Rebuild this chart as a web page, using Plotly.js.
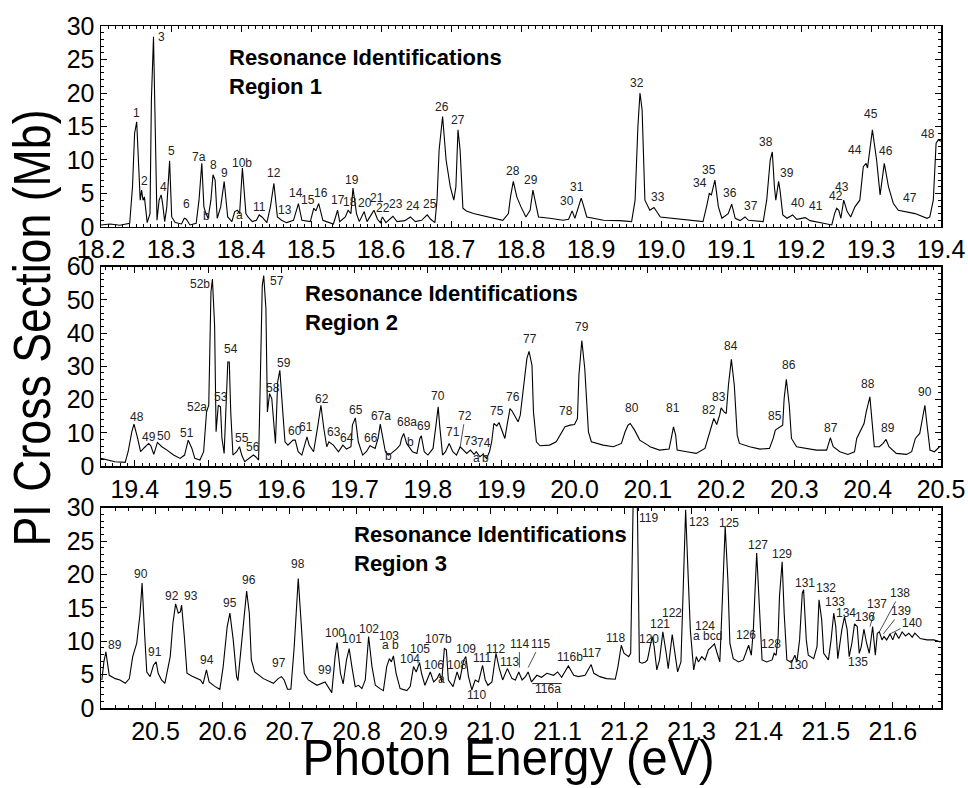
<!DOCTYPE html>
<html><head><meta charset="utf-8">
<script src="https://cdn.plot.ly/plotly-3.0.1.min.js"></script>
<style>html,body{margin:0;padding:0;background:#fff}#chart{width:968px;height:788px}</style>
</head><body><div id="chart"></div>
<script>
// ---- Region 1 spectrum (photon energy eV, cross section Mb)
const e1 = [18.200,18.213,18.227,18.241,18.245,18.248,18.251,18.253,18.256,18.258,18.260,18.262,18.266,18.270,18.272,18.275,18.277,18.280,18.283,18.286,18.288,18.291,18.294,18.298,18.301,18.306,18.315,18.319,18.322,18.327,18.336,18.340,18.344,18.347,18.350,18.353,18.357,18.360,18.363,18.366,18.371,18.376,18.381,18.387,18.391,18.395,18.398,18.402,18.407,18.410,18.416,18.422,18.426,18.430,18.437,18.442,18.447,18.452,18.458,18.465,18.475,18.482,18.487,18.499,18.504,18.507,18.511,18.517,
18.522,18.532,18.538,18.541,18.549,18.553,18.557,18.560,18.565,18.569,18.576,18.580,18.587,18.590,18.595,18.599,18.602,18.607,18.617,18.623,18.634,18.642,18.649,18.658,18.666,18.671,18.677,18.680,18.683,18.688,18.693,18.699,18.704,18.707,18.710,18.713,18.717,18.722,18.732,18.741,18.751,18.760,18.774,18.782,18.785,18.789,18.794,18.800,18.807,18.813,18.817,18.820,18.825,18.841,18.860,18.868,18.873,18.877,18.882,18.886,18.889,18.894,18.918,18.941,18.958,18.963,18.967,18.970,
18.973,18.977,18.984,18.990,18.999,19.018,19.041,19.060,19.065,19.069,19.072,19.077,19.082,19.087,19.096,19.101,19.106,19.113,19.120,19.125,19.146,19.151,19.156,19.159,19.162,19.164,19.168,19.170,19.174,19.180,19.188,19.194,19.206,19.213,19.232,19.244,19.248,19.251,19.254,19.257,19.261,19.266,19.271,19.277,19.284,19.289,19.293,19.295,19.302,19.308,19.313,19.319,19.325,19.332,19.339,19.351,19.363,19.380,19.384,19.389,19.393,19.396,19.400];
const s1 = [0.3,0.45,0.25,0.55,6.0,14.0,15.7,10.0,4.0,5.5,4.0,4.5,0.65,2.0,19.0,28.4,19.0,1.0,4.0,4.8,3.5,0.8,3.0,9.9,1.5,0.65,0.45,1.3,1.15,0.3,0.55,4.0,9.5,3.0,2.0,1.3,4.0,7.8,7.0,1.3,3.0,6.8,1.5,0.8,2.3,2.5,2.0,8.8,2.0,1.5,0.8,1.0,1.8,1.5,0.65,3.0,6.5,1.5,1.0,0.65,1.0,3.5,1.0,0.8,2.8,2.4,3.5,1.0,
0.8,0.45,2.5,0.8,1.5,2.5,2.0,5.8,2.0,0.8,2.3,0.8,2.0,2.5,1.15,0.65,1.5,0.65,1.6,0.8,0.95,1.5,0.8,1.0,1.8,1.15,0.65,4.0,11.5,16.5,10.0,6.0,4.0,6.0,14.5,11.5,2.8,2.4,2.0,1.8,1.6,1.4,1.0,2.0,4.5,6.8,4.5,3.0,1.5,2.5,5.5,4.0,1.5,1.3,1.0,1.15,2.4,1.3,3.0,4.3,3.3,1.5,1.0,0.95,0.8,4.0,15.0,20.0,
17.5,4.0,2.5,2.9,1.5,1.3,1.0,0.8,3.0,5.0,4.8,7.0,3.0,1.3,2.0,3.4,1.3,0.95,1.5,1.0,0.8,4.0,10.0,11.2,6.0,4.0,6.8,5.5,1.8,1.3,1.8,1.15,1.4,0.95,0.55,0.3,2.0,2.8,2.5,1.3,4.0,2.3,1.5,3.0,4.0,9.0,9.5,8.8,14.5,10.0,4.8,9.5,6.0,3.5,2.5,2.3,2.0,1.3,1.5,4.0,12.5,13.0,12.8];

// ---- Region 2 spectrum
const e2 = [19.354,19.362,19.373,19.387,19.391,19.396,19.399,19.404,19.408,19.413,19.419,19.422,19.426,19.431,19.437,19.444,19.453,19.462,19.468,19.473,19.478,19.482,19.489,19.494,19.498,19.501,19.504,19.506,19.509,19.511,19.514,19.517,19.519,19.522,19.524,19.527,19.529,19.531,19.534,19.539,19.543,19.546,19.550,19.556,19.562,19.565,19.569,19.571,19.574,19.576,19.579,19.581,19.584,19.587,19.590,19.592,19.595,19.598,19.602,19.605,19.609,19.616,19.619,19.623,19.628,19.635,19.638,19.644,19.650,19.654,19.658,19.662,
19.665,19.671,19.678,19.684,19.689,19.695,19.697,19.701,19.705,19.711,19.716,19.721,19.728,19.732,19.735,19.739,19.742,19.746,19.750,19.757,19.762,19.764,19.767,19.771,19.774,19.779,19.785,19.789,19.791,19.795,19.800,19.807,19.811,19.814,19.816,19.820,19.824,19.829,19.834,19.839,19.844,19.847,19.853,19.858,19.863,19.866,19.871,19.875,19.880,19.884,19.887,19.890,19.894,19.897,19.900,19.905,19.908,19.912,19.915,19.919,19.923,19.926,19.930,19.935,19.938,19.942,19.944,19.948,19.953,19.966,19.975,19.982,19.987,19.994,20.000,20.004,20.006,20.010,20.014,20.019,20.023,20.039,20.053,20.064,20.069,20.073,20.076,20.082,20.089,20.100,
20.103,20.116,20.129,20.132,20.135,20.138,20.140,20.153,20.166,20.178,20.182,20.187,20.190,20.194,20.198,20.200,20.204,20.207,20.210,20.214,20.218,20.222,20.225,20.239,20.253,20.266,20.271,20.274,20.280,20.284,20.286,20.289,20.293,20.296,20.303,20.316,20.330,20.344,20.347,20.349,20.353,20.362,20.373,20.382,20.385,20.389,20.395,20.398,20.403,20.406,20.409,20.416,20.421,20.425,20.429,20.439,20.453,20.460,20.465,20.471,20.475,20.478,20.481,20.485,20.491,20.498];
const s2 = [2.3,1.8,1.3,1.1,4.3,10.3,12.6,8.3,4.3,5.5,6.8,6.1,3.5,7.1,5.8,4.8,3.3,2.3,3.3,7.8,5.3,2.3,1.8,4.3,16.3,18.3,52.3,56.3,42.3,10.3,18.3,17.8,8.3,3.8,16.3,31.3,31.3,16.3,3.3,4.3,5.8,3.3,1.3,2.3,3.3,2.8,1.8,22.3,54.3,57.3,47.3,16.3,21.8,20.3,12.3,6.8,25.3,28.8,16.3,7.3,6.3,7.8,7.8,4.3,3.3,8.8,6.3,4.3,12.3,18.3,11.3,5.8,
7.3,6.3,4.3,6.3,5.1,5.8,12.3,14.5,7.3,3.3,4.3,6.1,5.3,8.3,12.6,8.3,4.3,3.3,3.8,5.1,6.3,8.3,9.8,6.8,5.8,4.3,3.8,8.3,9.1,4.3,3.3,5.3,12.3,17.8,12.3,3.3,4.3,6.8,4.3,3.3,5.8,5.1,3.8,4.8,3.5,4.3,2.8,3.5,2.3,4.3,7.3,12.8,12.1,13.1,11.3,8.3,12.3,17.3,16.5,14.8,13.3,15.3,22.3,32.3,34.5,30.3,16.3,7.3,6.1,6.3,7.3,9.8,11.8,12.3,12.5,14.3,27.3,37.8,29.3,10.3,7.3,6.3,5.8,6.8,10.3,12.3,12.8,10.8,7.8,6.3,
5.8,4.8,5.1,8.3,11.8,9.3,4.8,4.3,3.8,5.3,8.3,12.8,14.3,12.5,15.3,17.5,16.3,15.8,24.3,32.1,24.3,9.3,6.8,5.8,5.1,5.3,8.3,10.8,11.8,12.3,20.3,26.1,18.3,8.3,5.8,5.3,4.8,4.8,7.3,8.5,5.8,4.3,3.5,4.3,8.3,10.3,12.8,16.3,20.8,13.3,5.8,5.8,6.8,8.0,5.8,3.8,3.5,4.3,8.3,9.8,14.3,18.3,12.3,4.8,4.3,5.8];

// ---- Region 3 spectrum
const e3 = [20.420,20.423,20.426,20.428,20.431,20.440,20.447,20.455,20.461,20.466,20.472,20.477,20.480,20.484,20.487,20.492,20.497,20.501,20.504,20.509,20.514,20.522,20.526,20.530,20.534,20.537,20.539,20.543,20.547,20.554,20.567,20.571,20.576,20.580,20.589,20.596,20.601,20.607,20.611,20.616,20.621,20.623,20.630,20.636,20.640,20.643,20.648,20.661,20.676,20.683,20.688,20.692,20.697,20.702,20.707,20.713,20.718,20.722,20.728,20.741,20.753,20.760,
20.763,20.768,20.771,20.776,20.780,20.785,20.789,20.793,20.798,20.803,20.808,20.813,20.818,20.823,20.828,20.835,20.840,20.845,20.849,20.852,20.855,20.859,20.865,20.875,20.880,20.885,20.889,20.894,20.897,20.902,20.910,20.915,20.920,20.924,20.927,20.931,20.934,20.937,20.944,20.950,20.954,20.960,20.963,20.967,20.972,20.977,20.982,20.988,20.992,20.996,21.002,21.008,21.013,21.018,21.025,21.032,21.037,21.042,21.047,21.052,21.056,21.061,21.069,21.076,21.084,21.094,21.100,21.106,21.116,21.124,21.131,21.141,21.150,21.154,21.163,21.173,21.186,21.190,21.195,21.199,21.206,21.209,21.212,21.215,21.219,21.222,21.226,21.231,
21.234,21.241,21.244,21.248,21.252,21.257,21.262,21.265,21.271,21.275,21.279,21.284,21.288,21.291,21.294,21.298,21.303,21.307,21.310,21.315,21.320,21.325,21.330,21.334,21.338,21.342,21.345,21.350,21.354,21.357,21.362,21.370,21.377,21.385,21.389,21.392,21.397,21.401,21.405,21.412,21.420,21.423,21.426,21.429,21.431,21.435,21.438,21.442,21.449,21.454,21.457,21.461,21.465,21.467,21.471,21.474,21.482,21.487,21.490,21.494,21.497,21.504,21.508,21.512,21.515,21.518,21.524,21.528,21.532,21.535,21.539,21.543,21.547,21.550,21.553,21.557,21.561,21.565,21.568,21.570,21.574,21.577,21.580,21.584,21.587,21.591,21.596,21.600,21.604,21.609,21.614,21.619,21.624,21.629,21.633,21.641,21.651,21.661,21.671];
const s3 = [4.2,6.9,8.4,7.2,4.9,4.4,4.2,3.7,4.4,7.7,9.7,14.2,18.7,10.7,5.4,4.7,6.4,6.9,5.2,4.2,3.7,7.7,12.7,15.6,14.2,14.4,15.4,10.7,5.2,4.8,4.2,3.6,5.7,3.9,3.2,2.8,6.2,12.2,14.2,10.2,4.7,4.1,11.7,17.5,14.2,7.2,5.4,4.4,3.7,4.4,4.7,4.2,2.8,2.8,9.2,19.4,11.7,5.2,4.2,3.4,3.9,2.9,
2.3,7.7,9.8,5.2,3.6,7.2,8.9,6.2,3.2,3.4,2.9,4.2,10.7,6.2,3.4,2.9,2.6,6.2,7.4,6.9,7.8,5.2,2.9,2.6,3.2,6.2,5.4,6.8,5.2,3.4,5.4,3.9,4.4,5.2,3.9,8.9,8.7,4.2,3.2,5.4,4.2,7.2,7.7,4.7,2.7,4.2,3.9,6.4,4.2,3.4,3.9,8.2,5.9,4.2,5.9,4.4,4.2,5.4,4.2,4.7,5.4,3.9,4.9,4.6,5.2,4.9,5.4,4.6,6.3,4.9,4.7,4.9,6.5,5.2,4.7,4.4,4.3,6.2,9.4,8.2,7.7,8.2,30,45,30,6.9,6.7,6.9,
7.2,10.7,9.2,5.7,7.2,11.4,8.2,5.9,11.0,8.2,5.4,6.9,19.2,29.7,21.7,11.7,5.7,7.7,6.9,7.7,7.2,8.7,9.2,9.6,8.2,6.9,14.2,27.2,19.2,9.7,7.4,6.9,7.2,9.4,7.9,11.7,23.2,15.2,7.2,6.9,7.2,8.2,7.9,10.7,16.7,21.9,14.2,7.2,6.8,7.9,6.9,10.2,17.2,17.7,10.2,7.9,7.4,9.2,16.2,13.2,8.2,7.2,10.2,14.2,12.2,7.4,11.7,13.7,11.7,7.7,9.7,12.6,12.2,8.2,9.2,11.8,9.7,8.2,11.2,12.2,7.9,11.2,11.4,10.2,10.7,10.2,11.1,10.2,11.3,10.4,11.4,10.8,11.2,10.6,11.2,10.4,10.2,10.2,9.9];

// ---- Resonance labels
const lab1T = ['1','2','3','4','5','6','7a','b','8','9','a','10b','11','12','13','14','15','16','17','18','19','20','21','22','23','24','25','26','27','28','29','30','31','32','33','34','35','36','37','38','39','40','41','42','43','44','45','46','47','48'];
const lab1X = [18.250,18.262,18.286,18.289,18.300,18.322,18.340,18.350,18.360,18.376,18.398,18.402,18.426,18.447,18.463,18.479,18.496,18.514,18.538,18.555,18.559,18.577,18.594,18.603,18.622,18.646,18.670,18.687,18.710,18.789,18.814,18.866,18.880,18.965,18.995,19.055,19.069,19.098,19.129,19.150,19.180,19.195,19.222,19.250,19.259,19.277,19.300,19.322,19.356,19.382];
const lab1Y = [17.0,6.8,28.4,5.9,11.4,3.4,10.5,1.6,9.3,8.0,1.8,9.6,3.0,8.0,2.6,5.1,4.1,5.0,4.0,3.8,7.0,3.6,4.3,2.8,3.5,3.1,3.5,17.9,15.9,8.3,7.0,3.9,5.9,21.5,4.5,6.6,8.5,5.1,3.1,12.7,8.1,3.6,3.1,4.6,6.0,11.5,16.9,11.4,4.4,13.9];

const lab2T = ['48','49','50','51','52a','52b','53','54','55','56','57','58','59','60','61','62','63','64','65','66','67a','b','68a','b','69','70','71','73','74','a','b','75','76','77','78','79','80','81','82','83','84','85','86','87','88','89','90'];
const lab2X = [19.403,19.419,19.440,19.471,19.485,19.489,19.518,19.531,19.547,19.562,19.594,19.589,19.604,19.619,19.633,19.656,19.672,19.689,19.702,19.723,19.736,19.746,19.772,19.776,19.794,19.814,19.834,19.859,19.876,19.866,19.879,19.894,19.916,19.939,19.989,20.010,20.079,20.134,20.184,20.197,20.214,20.273,20.293,20.350,20.400,20.428,20.478];
const lab2Y = [14.8,8.8,9.1,9.8,17.8,54.8,20.8,35.1,8.3,5.8,55.8,23.5,31.1,10.5,11.8,20.3,10.1,8.5,17.0,8.3,15.1,3.1,13.1,7.3,12.0,21.1,10.1,7.6,6.8,2.5,2.5,16.5,20.8,38.1,16.6,41.8,17.6,17.5,16.8,20.8,36.1,15.1,30.3,11.3,24.6,11.5,22.3];

const lab3T = ['89','90','91','92','93','94','95','96','97','98','99','100','101','102','103','a b','104','105','106','a','107b','108','109','110','111','112','113','116a','116b','117','118','119','120','121','122','123','124','a bcd','125','126','127','128','129','130','131','132','133','134','135','136'];
const lab3X = [20.440,20.478,20.500,20.525,20.553,20.577,20.611,20.639,20.685,20.713,20.753,20.768,20.793,20.819,20.849,20.850,20.880,20.894,20.915,20.927,20.922,20.950,20.963,20.979,20.988,21.007,21.028,21.085,21.119,21.151,21.187,21.236,21.236,21.252,21.271,21.311,21.320,21.323,21.356,21.381,21.399,21.418,21.435,21.459,21.469,21.501,21.514,21.530,21.548,21.558];
const lab3Y = [9.5,20.0,8.4,16.8,16.8,7.2,15.8,19.1,6.7,21.5,5.7,11.2,10.4,11.9,10.8,9.5,7.3,8.8,6.4,4.3,10.4,6.5,8.9,1.9,7.5,8.9,6.9,2.8,7.7,8.2,10.5,28.4,10.3,12.6,14.2,27.9,12.3,10.8,27.7,10.9,24.4,9.6,23.1,6.4,18.7,17.9,15.9,14.2,6.9,13.6];

// labels that point to their peak with a leader line: text, region, peak energy, peak value
const ptrT = ['72','114','115','137','138','139','140'];
const ptrR = [2,3,3,3,3,3,3];
const ptrX = [19.844,21.043,21.056,21.566,21.580,21.586,21.596];
const ptrY = [5.8,6.05,6.05,12.2,11.4,11.1,11.1];
const ptrOff = [[5,-31],[0,-24],[12,-24],[7,-23],[21,-39],[18,-23],[22,-11]];
// underline of 116a (energy span, level)
const u116x = [21.060,21.106];
const u116y = 3.66;

const FONT = '"Liberation Sans", Arial, Helvetica, sans-serif';

function line(x, y, n) {
  return {x: x, y: y, type: 'scatter', mode: 'lines', xaxis: 'x' + (n > 1 ? n : ''), yaxis: 'y' + (n > 1 ? n : ''),
    line: {color: '#000', width: 1.1}, hoverinfo: 'skip', showlegend: false};
}
function xax(range, minor, anchor) {
  return {range: range, anchor: anchor, domain: [0, 1], dtick: 0.1, tick0: 0, tickformat: '.1f',
    ticks: 'inside', ticklen: 6, tickwidth: 1, tickcolor: '#000',
    minor: {dtick: minor, ticks: 'inside', ticklen: 3, tickwidth: 1, tickcolor: '#000'},
    showline: true, linecolor: '#000', linewidth: 1.5, mirror: 'ticks', showgrid: false, zeroline: false,
    tickfont: {family: FONT, size: 25, color: '#000'}};
}
function yax(range, dtick, minor, domain, anchor) {
  return {range: range, anchor: anchor, domain: domain, dtick: dtick, tick0: 0,
    ticks: 'inside', ticklen: 6, tickwidth: 1, tickcolor: '#000',
    minor: {dtick: minor, ticks: 'inside', ticklen: 3, tickwidth: 1, tickcolor: '#000'},
    showline: true, linecolor: '#000', linewidth: 1.5, mirror: 'ticks', showgrid: false, zeroline: false,
    tickfont: {family: FONT, size: 25, color: '#000'}};
}

const ann = [];
function addLabels(T, X, Y, n) {
  const s = n > 1 ? n : '';
  for (let i = 0; i < T.length; i++) {
    ann.push({x: X[i], y: Y[i], xref: 'x' + s, yref: 'y' + s, text: T[i], showarrow: false,
      xanchor: 'center', yanchor: 'middle', font: {family: FONT, size: 12, color: '#222'}});
  }
}
addLabels(lab1T, lab1X, lab1Y, 1);
addLabels(lab2T, lab2X, lab2Y, 2);
addLabels(lab3T, lab3X, lab3Y, 3);
for (let i = 0; i < ptrT.length; i++) {
  const s = ptrR[i] > 1 ? ptrR[i] : '';
  ann.push({x: ptrX[i], y: ptrY[i], xref: 'x' + s, yref: 'y' + s, text: ptrT[i], showarrow: true,
    arrowhead: 0, arrowwidth: 0.8, arrowcolor: '#222', ax: ptrOff[i][0], ay: ptrOff[i][1], standoff: 0,
    font: {family: FONT, size: 12, color: '#222'}});
}
ann.push({x: u116x[1], y: u116y, xref: 'x3', yref: 'y3', ax: u116x[0], ay: u116y, axref: 'x3', ayref: 'y3',
  text: '', showarrow: true, arrowhead: 0, arrowwidth: 1, arrowcolor: '#222', standoff: 0, startstandoff: 0});

// region headings
const heads = [['Region 1', 'x', 'y', 0.1496, 0.769], ['Region 2', 'x2', 'y2', 0.2405, 0.795], ['Region 3', 'x3', 'y3', 0.2985, 0.7925]];
heads.forEach(h => ann.push({text: '<b>Resonance Identifications<br>' + h[0] + '</b>', xref: h[1] + ' domain', yref: h[2] + ' domain',
  x: h[3], y: h[4], xanchor: 'left', yanchor: 'middle', align: 'left', showarrow: false,
  font: {family: FONT, size: 22, color: '#000'}}));

// axis titles (condensed afterwards to the reference's narrow lettering)
const YTITLE = 'PI Cross Section (Mb)', XTITLE = 'Photon Energy (eV)';
ann.push({text: YTITLE, textangle: -90, xref: 'paper', yref: 'paper', x: -0.082, y: 0.557,
  xanchor: 'center', yanchor: 'middle', showarrow: false, font: {family: FONT, size: 52, color: '#000'}});
ann.push({text: XTITLE, xref: 'paper', yref: 'paper', x: 0.4857, y: -0.074,
  xanchor: 'center', yanchor: 'middle', showarrow: false, font: {family: FONT, size: 50, color: '#000'}});

const layout = {
  width: 968, height: 788, margin: {l: 101, r: 27, t: 26, b: 80},
  paper_bgcolor: '#fff', plot_bgcolor: '#fff', showlegend: false,
  xaxis: xax([18.2, 19.4], 0.01, 'y'),
  yaxis: yax([0, 30], 5, 1, [0.7053, 1], 'x'),
  xaxis2: xax([19.354, 20.5], 0.01, 'y2'),
  yaxis2: yax([0, 60], 10, 2, [0.3548, 0.6471], 'x2'),
  xaxis3: xax([20.4187, 21.672], 0.02, 'y3'),
  yaxis3: yax([0, 30], 5, 1, [0, 0.2937], 'x3'),
  annotations: ann
};

Plotly.newPlot('chart', [line(e1, s1, 1), line(e2, s2, 2), line(e3, s3, 3)], layout, {displayModeBar: false, staticPlot: true})
.then(function () {
  document.querySelectorAll('#chart text.annotation-text').forEach(function (t) {
    const txt = t.textContent;
    let len = 0;
    if (txt === YTITLE) len = 437;
    else if (txt === XTITLE) len = 412;
    if (len) {
      t.setAttribute('textLength', len);
      t.setAttribute('lengthAdjust', 'spacingAndGlyphs');
    }
  });
});
</script></body></html>
